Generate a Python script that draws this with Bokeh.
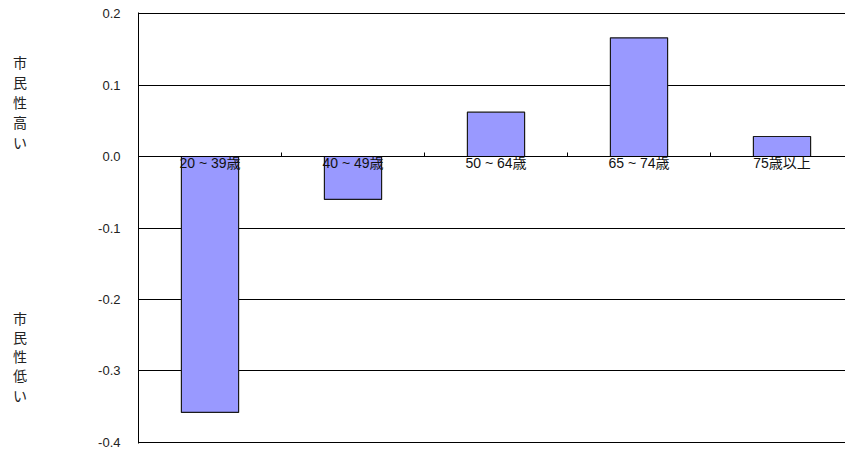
from bokeh.plotting import figure
from bokeh.layouts import row
from bokeh.models import (Range1d, LinearAxis, FixedTicker, ColumnDataSource)
from bokeh.core.properties import value
from bokeh.embed import file_html
from bokeh.resources import INLINE

categories = ["20 ~ 39歳", "40 ~ 49歳", "50 ~ 64歳", "65 ~ 74歳", "75歳以上"]
values = [-0.358, -0.060, 0.062, 0.166, 0.028]
y_ticks = [0.2, 0.1, 0.0, -0.1, -0.2, -0.3, -0.4]
y_tick_labels = ["0.2", "0.1", "0.0", "-0.1", "-0.2", "-0.3", "-0.4"]
upper_note = "市民性高い"
lower_note = "市民性低い"

FONT = "'Liberation Sans', Arial, 'Noto Sans CJK JP', sans-serif"

n = len(categories)
centers = [i + 0.5 for i in range(n)]
boundaries = list(range(n + 1))

W, H = 845, 452
NOTE_W = 40
LEFT, TOP, BOTTOM = 138, 12, 9
CAT_PX = 143.0
EPS = 0.0014
main_w = W - NOTE_W
frame_w = W - LEFT
frame_h = H - TOP - BOTTOM
px_per_y = frame_h / (0.6 + 2 * EPS)

yr = Range1d(-0.4 - EPS, 0.2 + EPS)

p = figure(width=main_w, height=H, output_backend="svg", toolbar_location=None,
           x_range=Range1d(0, frame_w / CAT_PX), y_range=yr,
           min_border_left=LEFT - NOTE_W, min_border_right=0, min_border_top=TOP,
           min_border_bottom=BOTTOM, x_axis_location=None)
p.outline_line_color = None
p.background_fill_color = "white"
p.border_fill_color = "white"

src = ColumnDataSource(dict(x=centers, top=values, cat=categories))
p.vbar(x="x", top="top", bottom=0, width=0.4, source=src,
       fill_color="#9999FF", line_color="#1a1a1a", line_width=1.2)

# y axis
yax = p.yaxis[0]
yax.ticker = FixedTicker(ticks=y_ticks)
yax.major_label_overrides = {t: s for t, s in zip(y_ticks, y_tick_labels)}
yax.major_tick_in = 0
yax.major_tick_out = 0
yax.minor_tick_line_color = None
yax.axis_line_color = "black"
yax.major_label_standoff = 18
yax.major_label_text_font = FONT
yax.major_label_text_font_size = "13px"
yax.major_label_text_color = "#222222"

p.ygrid.ticker = FixedTicker(ticks=y_ticks)
p.ygrid.grid_line_color = "black"
p.ygrid.grid_line_width = 1
p.xgrid.grid_line_color = None

# zero line axis with category boundary ticks (no labels)
zax = LinearAxis(fixed_location=0, ticker=FixedTicker(ticks=boundaries),
                 major_tick_in=4, major_tick_out=0, minor_tick_line_color=None,
                 axis_line_color="black", major_tick_line_color="black",
                 major_label_overrides={b: "" for b in boundaries},
                 major_label_text_font_size="1px")
p.add_layout(zax, "below")

# category labels
cax = LinearAxis(fixed_location=0, ticker=FixedTicker(ticks=centers),
                 major_label_overrides={c: s for c, s in zip(centers, categories)},
                 major_tick_in=0, major_tick_out=0, minor_tick_line_color=None,
                 axis_line_color=None, major_tick_line_color=None,
                 major_label_standoff=-2, major_label_text_font=FONT,
                 major_label_text_font_size="14px", major_label_text_color="#111111")
p.add_layout(cax, "below")

# side notes figure (stacked vertical characters)
q = figure(width=NOTE_W, height=H, output_backend="svg", toolbar_location=None,
           x_range=Range1d(0, NOTE_W), y_range=yr,
           min_border_left=0, min_border_right=0, min_border_top=TOP,
           min_border_bottom=BOTTOM, x_axis_location=None, y_axis_location=None)
q.outline_line_color = None
q.xgrid.grid_line_color = None
q.ygrid.grid_line_color = None

zero_px = TOP + (0.2 + EPS) * px_per_y
chars, cy = [], []
for text, start_px, step in ((upper_note, 62, 20), (lower_note, 318, 19.3)):
    for i, ch in enumerate(text):
        chars.append(ch)
        cy.append((zero_px - (start_px + step * i)) / px_per_y)
q.text(x=[19.5] * len(chars), y=cy, text=chars, text_align="center",
       text_baseline="middle", text_font=value(FONT), text_font_size="14px",
       text_color="#222222")

open("out.html", "w").write(file_html(row(q, p, spacing=0), INLINE))
